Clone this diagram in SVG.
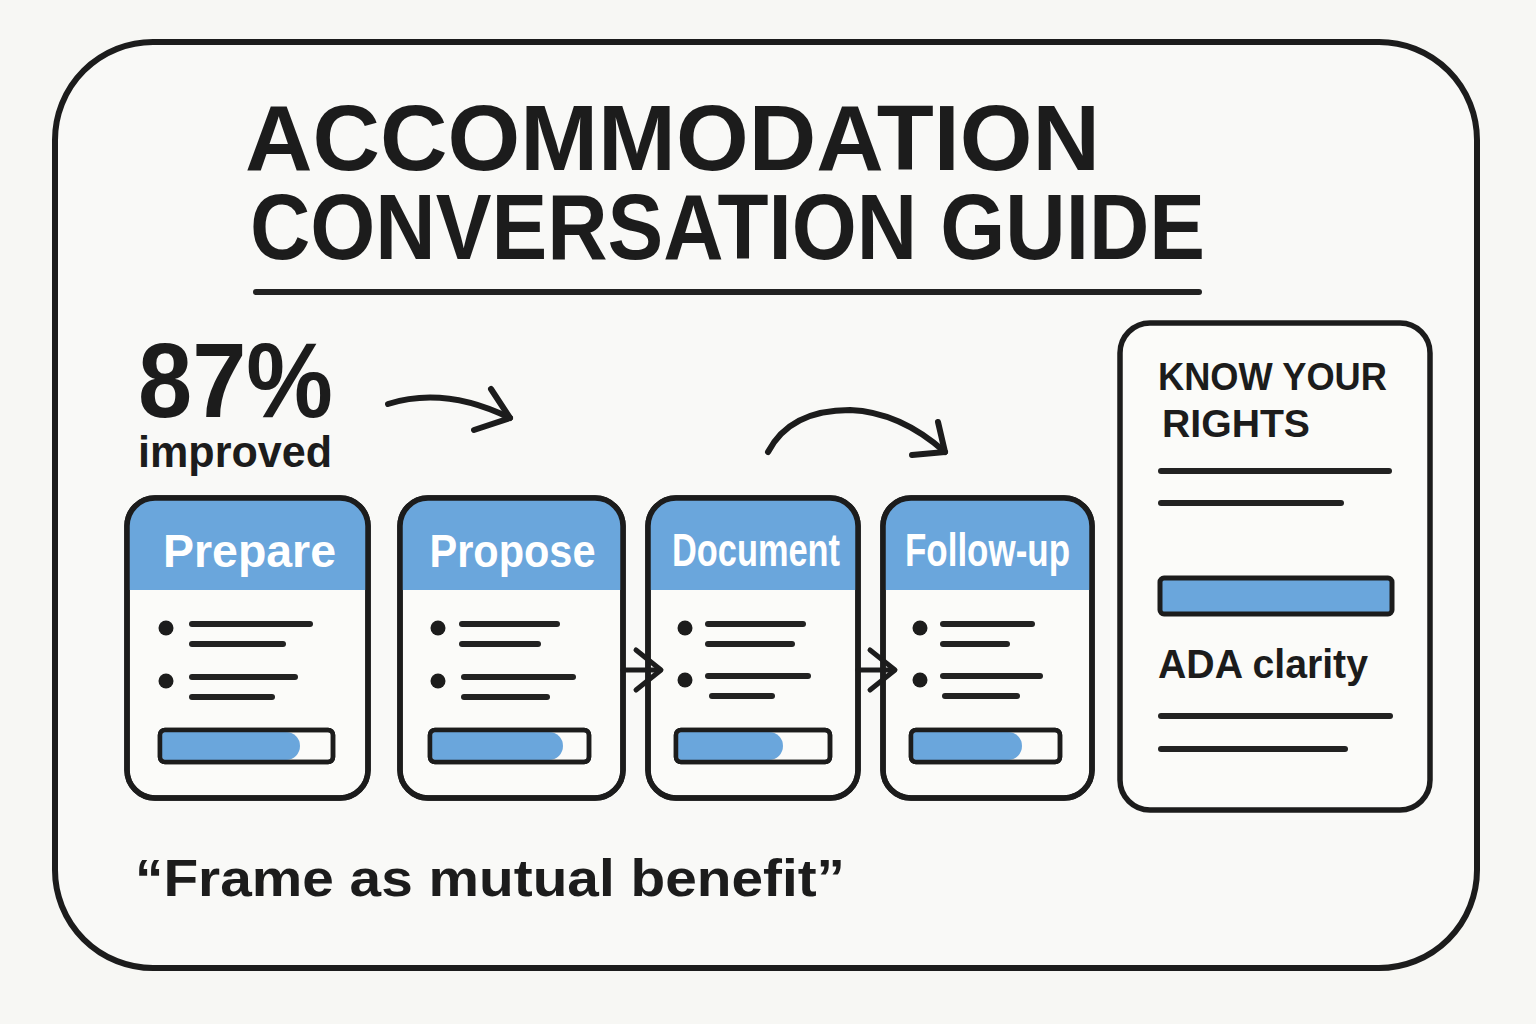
<svg xmlns="http://www.w3.org/2000/svg" width="1536" height="1024" viewBox="0 0 1536 1024">
  <style>
    .ink { fill: none; stroke: #1c1c1c; stroke-linecap: round; stroke-linejoin: round; }
    .card { fill: #fbfbf9; stroke: #1c1c1c; stroke-width: 5.5; }
    .hdr { fill: #6aa6dc; }
    .hdrtxt { font-family: "Liberation Sans", Arial, sans-serif; font-weight: bold; font-size: 46px; fill: #ffffff; text-anchor: middle; }
    .line { stroke: #222; stroke-width: 6; stroke-linecap: round; fill: none; }
    .dot { fill: #1c1c1c; }
    .bar { fill: #fbfbf9; stroke: #1c1c1c; stroke-width: 4.5; }
    .barfill { fill: #6aa6dc; }
    .txt { font-family: "Liberation Sans", Arial, sans-serif; font-weight: bold; fill: #1c1c1c; }
  </style>
  <defs>
    <clipPath id="cp1"><rect x="127" y="498" width="241" height="300" rx="28"/></clipPath>
    <clipPath id="cp2"><rect x="400" y="498" width="223" height="300" rx="28"/></clipPath>
    <clipPath id="cp3"><rect x="648" y="498" width="210" height="300" rx="28"/></clipPath>
    <clipPath id="cp4"><rect x="883" y="498" width="209" height="300" rx="28"/></clipPath>
    <clipPath id="pb1"><rect x="162" y="732" width="169" height="28" rx="4"/></clipPath>
    <clipPath id="pb2"><rect x="432" y="732" width="155" height="28" rx="4"/></clipPath>
    <clipPath id="pb3"><rect x="678" y="732" width="150" height="28" rx="4"/></clipPath>
    <clipPath id="pb4"><rect x="913" y="732" width="145" height="28" rx="4"/></clipPath>
  </defs>

  <rect x="0" y="0" width="1536" height="1024" fill="#f7f7f4"/>

  <g id="frame">
    <rect x="55" y="42" width="1422" height="926" rx="98" fill="#f9f9f7" stroke="#1c1c1c" stroke-width="6"/>
  </g>

  <g id="title">
    <text class="txt" x="245" y="170" font-size="92" textLength="855" lengthAdjust="spacingAndGlyphs">ACCOMMODATION</text>
    <text class="txt" x="250" y="259" font-size="92" textLength="955" lengthAdjust="spacingAndGlyphs">CONVERSATION GUIDE</text>
    <line class="line" x1="256" y1="292" x2="1199" y2="292" stroke-width="5.5"/>
  </g>

  <g id="stat">
    <text class="txt" x="138" y="417" font-size="106" textLength="195" lengthAdjust="spacingAndGlyphs">87%</text>
    <text class="txt" x="138" y="467" font-size="44" textLength="194" lengthAdjust="spacingAndGlyphs">improved</text>
  </g>

  <g id="card-prepare">
    <rect class="card" x="127" y="498" width="241" height="300" rx="28"/>
    <rect class="hdr" x="127" y="498" width="241" height="92" clip-path="url(#cp1)"/>
    <rect x="127" y="498" width="241" height="300" rx="28" fill="none" stroke="#1c1c1c" stroke-width="5.5"/>
    <text class="hdrtxt" x="249.5" y="567" textLength="173" lengthAdjust="spacingAndGlyphs">Prepare</text>
    <circle class="dot" cx="166" cy="628" r="7.5"/>
    <line class="line" x1="192" y1="624" x2="310" y2="624"/>
    <line class="line" x1="192" y1="644" x2="283" y2="644"/>
    <circle class="dot" cx="166" cy="681" r="7.5"/>
    <line class="line" x1="192" y1="677" x2="295" y2="677"/>
    <line class="line" x1="192" y1="697" x2="272" y2="697"/>
    <rect class="bar" x="160" y="730" width="173" height="32" rx="5"/>
    <rect class="barfill" x="162" y="732" width="138" height="28" clip-path="url(#pb1)" rx="14"/>
    <rect class="barfill" x="162" y="732" width="120" height="28" clip-path="url(#pb1)"/>
    <rect x="160" y="730" width="173" height="32" rx="5" fill="none" stroke="#1c1c1c" stroke-width="4.5"/>
  </g>

  <g id="card-propose">
    <rect class="card" x="400" y="498" width="223" height="300" rx="28"/>
    <rect class="hdr" x="400" y="498" width="223" height="92" clip-path="url(#cp2)"/>
    <rect x="400" y="498" width="223" height="300" rx="28" fill="none" stroke="#1c1c1c" stroke-width="5.5"/>
    <text class="hdrtxt" x="512.5" y="567" textLength="166" lengthAdjust="spacingAndGlyphs">Propose</text>
    <circle class="dot" cx="438" cy="628" r="7.5"/>
    <line class="line" x1="462" y1="624" x2="557" y2="624"/>
    <line class="line" x1="462" y1="644" x2="538" y2="644"/>
    <circle class="dot" cx="438" cy="681" r="7.5"/>
    <line class="line" x1="464" y1="677" x2="573" y2="677"/>
    <line class="line" x1="464" y1="697" x2="547" y2="697"/>
    <rect class="bar" x="430" y="730" width="159" height="32" rx="5"/>
    <rect class="barfill" x="432" y="732" width="131" height="28" clip-path="url(#pb2)" rx="14"/>
    <rect class="barfill" x="432" y="732" width="115" height="28" clip-path="url(#pb2)"/>
    <rect x="430" y="730" width="159" height="32" rx="5" fill="none" stroke="#1c1c1c" stroke-width="4.5"/>
  </g>

  <g id="card-document">
    <rect class="card" x="648" y="498" width="210" height="300" rx="28"/>
    <rect class="hdr" x="648" y="498" width="210" height="92" clip-path="url(#cp3)"/>
    <rect x="648" y="498" width="210" height="300" rx="28" fill="none" stroke="#1c1c1c" stroke-width="5.5"/>
    <text class="hdrtxt" x="756" y="566" textLength="168" lengthAdjust="spacingAndGlyphs">Document</text>
    <circle class="dot" cx="685" cy="628" r="7.5"/>
    <line class="line" x1="708" y1="624" x2="803" y2="624"/>
    <line class="line" x1="708" y1="644" x2="792" y2="644"/>
    <circle class="dot" cx="685" cy="680" r="7.5"/>
    <line class="line" x1="708" y1="676" x2="808" y2="676"/>
    <line class="line" x1="712" y1="696" x2="772" y2="696"/>
    <rect class="bar" x="676" y="730" width="154" height="32" rx="5"/>
    <rect class="barfill" x="678" y="732" width="105" height="28" clip-path="url(#pb3)" rx="14"/>
    <rect class="barfill" x="678" y="732" width="90" height="28" clip-path="url(#pb3)"/>
    <rect x="676" y="730" width="154" height="32" rx="5" fill="none" stroke="#1c1c1c" stroke-width="4.5"/>
  </g>

  <g id="card-followup">
    <rect class="card" x="883" y="498" width="209" height="300" rx="28"/>
    <rect class="hdr" x="883" y="498" width="209" height="92" clip-path="url(#cp4)"/>
    <rect x="883" y="498" width="209" height="300" rx="28" fill="none" stroke="#1c1c1c" stroke-width="5.5"/>
    <text class="hdrtxt" x="987.5" y="566" textLength="165" lengthAdjust="spacingAndGlyphs">Follow-up</text>
    <circle class="dot" cx="920" cy="628" r="7.5"/>
    <line class="line" x1="943" y1="624" x2="1032" y2="624"/>
    <line class="line" x1="943" y1="644" x2="1007" y2="644"/>
    <circle class="dot" cx="920" cy="680" r="7.5"/>
    <line class="line" x1="943" y1="676" x2="1040" y2="676"/>
    <line class="line" x1="945" y1="696" x2="1017" y2="696"/>
    <rect class="bar" x="911" y="730" width="149" height="32" rx="5"/>
    <rect class="barfill" x="913" y="732" width="109" height="28" clip-path="url(#pb4)" rx="14"/>
    <rect class="barfill" x="913" y="732" width="95" height="28" clip-path="url(#pb4)"/>
    <rect x="911" y="730" width="149" height="32" rx="5" fill="none" stroke="#1c1c1c" stroke-width="4.5"/>
  </g>

  <g id="rights-panel">
    <rect class="card" x="1120" y="323" width="310" height="487" rx="30"/>
    <text class="txt" x="1158" y="390" font-size="39" textLength="229" lengthAdjust="spacingAndGlyphs">KNOW YOUR</text>
    <text class="txt" x="1162" y="437" font-size="39" textLength="148" lengthAdjust="spacingAndGlyphs">RIGHTS</text>
    <line class="line" x1="1161" y1="471" x2="1389" y2="471" stroke-width="5"/>
    <line class="line" x1="1161" y1="503" x2="1341" y2="503" stroke-width="5"/>
    <rect x="1160" y="578" width="232" height="36" rx="4" fill="#6aa6dc" stroke="#1c1c1c" stroke-width="5"/>
    <text class="txt" x="1158" y="678" font-size="41" textLength="210" lengthAdjust="spacingAndGlyphs">ADA clarity</text>
    <line class="line" x1="1161" y1="716" x2="1390" y2="716" stroke-width="5"/>
    <line class="line" x1="1161" y1="749" x2="1345" y2="749" stroke-width="5"/>
  </g>

  <g id="quote">
    <text class="txt" x="135" y="896" font-size="52" textLength="710" lengthAdjust="spacingAndGlyphs">“Frame as mutual benefit”</text>
  </g>

  <g id="connectors">
    <path class="ink" stroke-width="6" d="M388,404 Q445,386 510,418"/>
    <path class="ink" stroke-width="6" d="M491,389 L510,418 L474,430"/>
    <path class="ink" stroke-width="6" d="M768,452 Q790,410 850,410 Q900,412 945,452"/>
    <path class="ink" stroke-width="6" d="M938,422 L945,452 L912,455"/>
    <line class="ink" stroke-width="5" x1="623" y1="670" x2="660" y2="670"/>
    <path class="ink" stroke-width="5" d="M636,650 L661,670 L636,690"/>
    <line class="ink" stroke-width="5" x1="858" y1="670" x2="894" y2="670"/>
    <path class="ink" stroke-width="5" d="M870,650 L895,670 L870,690"/>
  </g>
</svg>
